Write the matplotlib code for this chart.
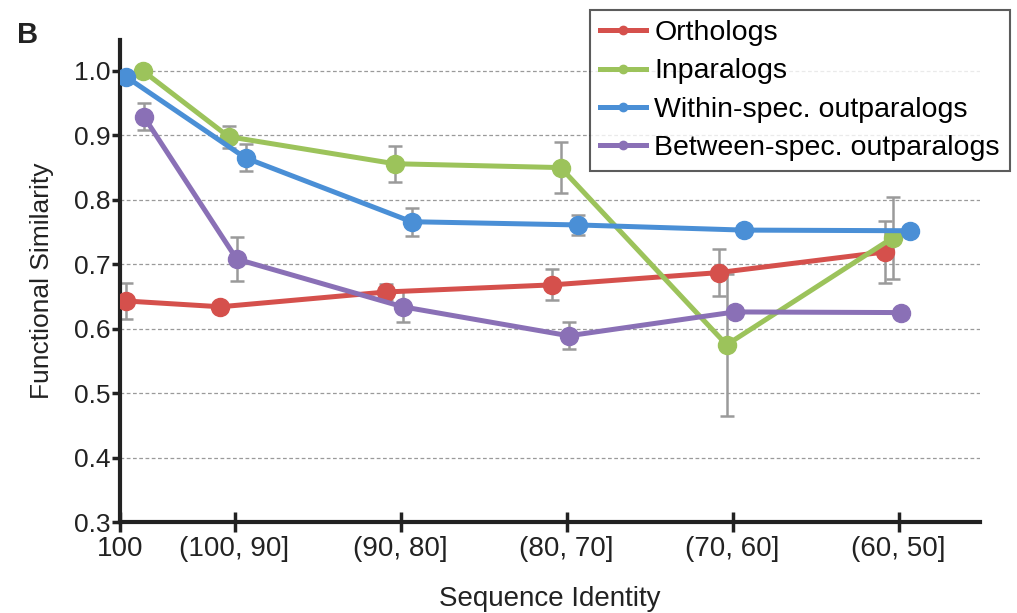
import matplotlib
matplotlib.use("Agg")
import matplotlib.pyplot as plt
import numpy as np

plt.rcParams['font.family'] = ['Liberation Sans', 'DejaVu Sans']

# bins of sequence identity (first one is the exact 100% group)
categories = ['100', '(100, 90]', '(90, 80]', '(80, 70]', '(70, 60]', '(60, 50]']
tick_pos = [0.31, 1, 2, 3, 4, 5]

orthologs = [0.643, 0.634, 0.657, 0.668, 0.687, 0.719]
orthologs_err = [0.028, 0.006, 0.012, 0.024, 0.036, 0.048]

inparalogs = [1.000, 0.898, 0.856, 0.850, 0.575, 0.741]
inparalogs_err = [0.004, 0.017, 0.028, 0.040, 0.110, 0.064]

within_out = [0.991, 0.865, 0.766, 0.761, 0.753, 0.752]
within_out_err = [0.004, 0.021, 0.022, 0.016, 0.006, 0.006]

between_out = [0.929, 0.708, 0.634, 0.589, 0.626, 0.625]
between_out_err = [0.021, 0.034, 0.024, 0.021, 0.006, 0.006]

series = [
    ('Orthologs', orthologs, orthologs_err, '#d5504c'),
    ('Inparalogs', inparalogs, inparalogs_err, '#9cc35b'),
    ('Within-spec. outparalogs', within_out, within_out_err, '#4a8fd6'),
    ('Between-spec. outparalogs', between_out, between_out_err, '#8a70b6'),
]
# small horizontal dodge per series so the error bars don't overlap
dodge = [-0.085, -0.036, 0.066, 0.013]
dodge_first = [0.036, 0.138, 0.036, 0.144]

fig = plt.figure(figsize=(10.17, 6.13), dpi=100)
ax = fig.add_axes([120 / 1017, 91 / 613, 860 / 1017, 482 / 613])

for i, (name, vals, err, col) in enumerate(series):
    xs = np.array(tick_pos, dtype=float) + dodge[i]
    xs[0] = tick_pos[0] + dodge_first[i]
    ax.plot(xs, vals, '-o', color=col, lw=3.6, ms=13, label=name, zorder=3,
            solid_capstyle='round')
    ax.errorbar(xs, vals, yerr=err, fmt='none', ecolor='#9a9a9a', elinewidth=1.8,
                capsize=5, capthick=1.8, zorder=2)

ax.set_xlim(0.31, 5.49)
ax.set_ylim(0.3, 1.048)
ax.set_xticks(tick_pos)
ax.set_xticklabels(categories, fontsize=20)
ax.set_yticks(np.arange(0.3, 1.01, 0.1))
ax.set_yticklabels([f'{v:.1f}' for v in np.arange(0.3, 1.01, 0.1)], fontsize=19)

for v in np.arange(0.4, 1.01, 0.1):
    ax.axhline(v, color='#9a9a9a', lw=0.9, ls=(0, (3, 2)), zorder=1)

for s in ['top', 'right']:
    ax.spines[s].set_visible(False)
for s in ['left', 'bottom']:
    ax.spines[s].set_linewidth(3)
    ax.spines[s].set_color('#222222')
ax.tick_params(axis='y', direction='out', length=6, width=2.5, pad=1, colors='#222222')
ax.tick_params(axis='x', direction='inout', length=14, width=2.5, pad=3, colors='#222222')

ax.set_xlabel('Sequence Identity', fontsize=20, color='#222222', labelpad=17)
ax.set_ylabel('Functional Similarity', fontsize=19, color='#222222', labelpad=14)

fig.text(28 / 1017, 1 - 35 / 613, 'B', fontsize=21, fontweight='bold',
         ha='center', va='center', color='#222222')

handles = [plt.Line2D([], [], color=c, lw=3.6, marker='o', ms=6) for _, _, _, c in series]
leg = fig.legend(handles, [s[0] for s in series], loc='upper right',
                 bbox_to_anchor=(1010 / 1017, 1 - 10 / 613), fontsize=20.5,
                 frameon=True, fancybox=False, edgecolor='#333333',
                 handlelength=1.6, handletextpad=0.3, labelspacing=0.43,
                 borderpad=0.36, borderaxespad=0)
leg.get_frame().set_linewidth(1.5)

fig.savefig('out.png', dpi=100, facecolor='white')
